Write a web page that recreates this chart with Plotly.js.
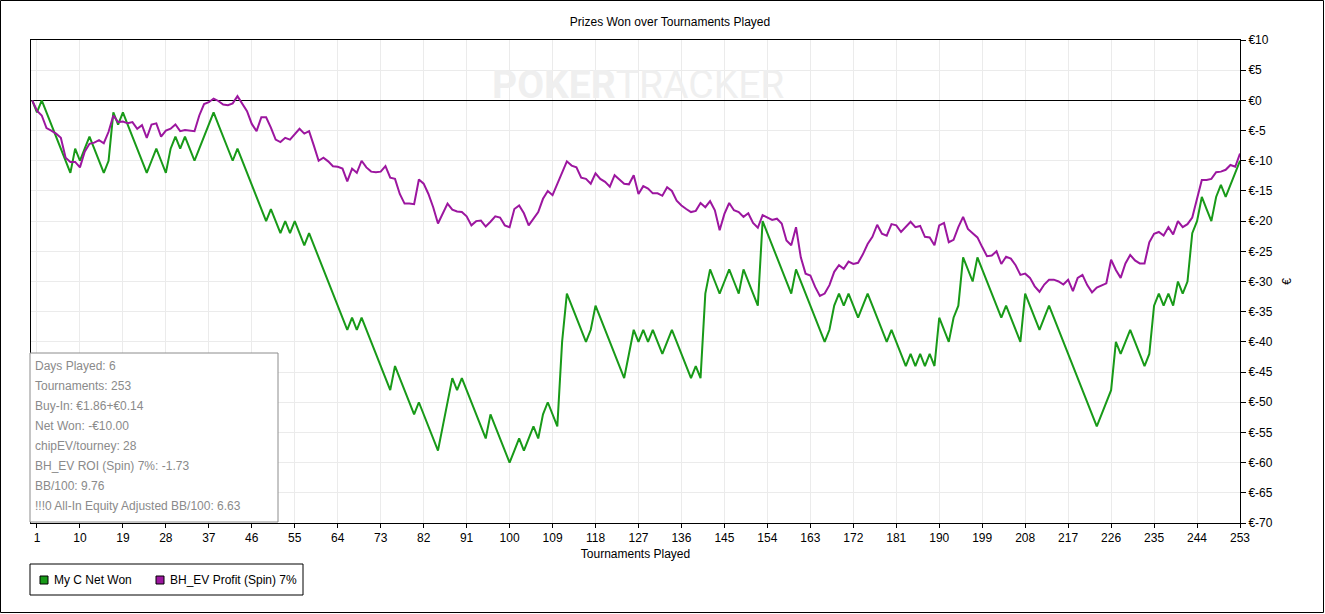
<!DOCTYPE html>
<html>
<head>
<meta charset="utf-8">
<script src="https://cdn.plot.ly/plotly-3.0.1.min.js"></script>
<style>
  html, body { margin:0; padding:0; background:#fff; }
  #chart { width:1325px; height:614px; }
</style>
</head>
<body>
<div id="chart"></div>
<script>
// ---- data ----
const tournamentCount = 253;
const tournaments = Array.from({length: tournamentCount + 1}, (_, i) => i);

const netWon = [
  0,-2,0,-2,-4,-6,-8,-10,-12,-8,
  -10,-8,-6,-8,-10,-12,-10,-2,-4,-2,
  -4,-6,-8,-10,-12,-10,-8,-10,-12,-8,
  -6,-8,-6,-8,-10,-8,-6,-4,-2,-4,
  -6,-8,-10,-8,-10,-12,-14,-16,-18,-20,
  -18,-20,-22,-20,-22,-20,-22,-24,-22,-24,
  -26,-28,-30,-32,-34,-36,-38,-36,-38,-36,
  -38,-40,-42,-44,-46,-48,-44,-46,-48,-50,
  -52,-50,-52,-54,-56,-58,-54,-50,-46,-48,
  -46,-48,-50,-52,-54,-56,-52,-54,-56,-58,
  -60,-58,-56,-58,-56,-54,-56,-52,-50,-52,
  -54,-40,-32,-34,-36,-38,-40,-38,-34,-36,
  -38,-40,-42,-44,-46,-42,-38,-40,-38,-40,
  -38,-40,-42,-40,-38,-40,-42,-44,-46,-44,
  -46,-32,-28,-30,-32,-30,-28,-30,-32,-28,
  -30,-32,-34,-20,-22,-24,-26,-28,-30,-32,
  -28,-30,-32,-34,-36,-38,-40,-38,-34,-32,
  -34,-32,-34,-36,-34,-32,-34,-36,-38,-40,
  -38,-40,-42,-44,-42,-44,-42,-44,-42,-44,
  -36,-38,-40,-36,-34,-26,-28,-30,-26,-28,
  -30,-32,-34,-36,-34,-36,-38,-40,-32,-34,
  -36,-38,-36,-34,-36,-38,-40,-42,-44,-46,
  -48,-50,-52,-54,-52,-50,-48,-40,-42,-40,
  -38,-40,-42,-44,-42,-34,-32,-34,-32,-34,
  -30,-32,-30,-22,-20,-16,-18,-20,-16,-14,
  -16,-14,-12,-10
];

const evProfit = [
  0,-1.7,-2.5,-4.6,-5,-5.5,-6.2,-9.5,-10.2,-10.2,
  -11.1,-8.5,-7.2,-7,-6.6,-7.1,-5.2,-2.5,-3.6,-3.5,
  -3.8,-3.6,-4.7,-4.1,-6.2,-4,-3.8,-6,-5,-4.7,
  -4,-5.1,-4.9,-5,-5.1,-2.5,-0.6,-0.3,0.3,-0.1,
  -0.7,-0.8,-0.5,0.7,-0.5,-1.8,-3.9,-5.1,-2.8,-2.8,
  -4.5,-6.5,-6.9,-6.2,-6.5,-5.5,-4.7,-5.5,-5.1,-7.5,
  -10,-9.5,-10.1,-10.9,-11,-11.3,-13.4,-11.3,-12,-10,
  -11.1,-11.8,-11.9,-11.8,-10.9,-12.8,-13,-15.5,-17.1,-17.1,
  -17.2,-13.1,-13.8,-15.5,-17.7,-20.4,-18.7,-17.1,-18.1,-18.4,
  -18.5,-19.2,-20.7,-20,-19.9,-20.9,-20.1,-19.2,-19.4,-20.7,
  -21,-18,-17.4,-18.7,-20.7,-19.6,-18.5,-16.3,-15,-15.7,
  -13.8,-11.9,-10.1,-10.8,-11.1,-12.8,-13,-13.8,-12.1,-13,
  -13.5,-14.3,-12.4,-13.1,-13.8,-13.9,-12.4,-15.5,-14.2,-14.6,
  -15.4,-15.4,-15.8,-14.4,-15,-16.6,-17.4,-18,-18.5,-18.3,
  -17,-17.7,-16.7,-18.2,-21.5,-18.8,-17,-18.2,-18.5,-19.3,
  -18.7,-20.3,-21.1,-19,-19.4,-19.8,-19.6,-20.4,-23.2,-24,
  -21,-26,-28.7,-29,-30.9,-32.4,-32,-30.6,-28.4,-27.3,
  -27.9,-26.7,-27.1,-26.9,-25.5,-23.8,-22.6,-20.6,-22.1,-22.4,
  -20.5,-20.7,-21.8,-21,-20.1,-21,-20.8,-22.6,-22.7,-24,
  -20.7,-20.3,-23.5,-23.1,-21,-19.3,-21.3,-22,-22.7,-24.3,
  -25.8,-25.7,-25,-27.1,-25.9,-26.2,-27.3,-28.9,-28.7,-29.4,
  -30.8,-31.7,-30.5,-29.7,-29.7,-30,-30.5,-29.7,-31.6,-29.4,
  -28.9,-30.6,-31.8,-31,-30.7,-30.3,-26.4,-28.1,-29.4,-27,
  -25.6,-26.5,-27,-27,-23.5,-22.1,-21.8,-22.4,-21,-22.2,
  -20,-21,-20.5,-19.4,-16.3,-13.2,-13.2,-13,-11.9,-11.8,
  -11.5,-10.7,-11,-8.8
];

const xTickVals = [1,10,19,28,37,46,55,64,73,82,91,100,109,118,127,136,145,154,163,172,181,190,199,208,217,226,235,244,253];
const xTickText = ["1","10","19","28","37","46","55","64","73","82","91","100","109","118","127","136","145","154","163","172","181","190","199","208","217","226","235","244","253"];
const yTickVals = [10,5,0,-5,-10,-15,-20,-25,-30,-35,-40,-45,-50,-55,-60,-65,-70];
const yTickText = ["€10","€5","€0","€-5","€-10","€-15","€-20","€-25","€-30","€-35","€-40","€-45","€-50","€-55","€-60","€-65","€-70"];

const seriesNames = ["My C Net Won", "BH_EV Profit (Spin) 7%"];
const chartTitle = "Prizes Won over Tournaments Played";
const xTitle = "Tournaments Played";
const yTitle = "€";
const watermarkBold = "POKER";
const watermarkLight = "TRACKER";
const infoLines = [
  "Days Played: 6",
  "Tournaments: 253",
  "Buy-In: €1.86+€0.14",
  "Net Won: -€10.00",
  "chipEV/tourney: 28",
  "BH_EV ROI (Spin) 7%: -1.73",
  "BB/100: 9.76",
  "!!!0 All-In Equity Adjusted BB/100: 6.63"
];

// ---- styling / layout ----
const GREEN = "#189a18";
const PURPLE = "#9c169f";
const W = 1325, H = 614;
const M = {l:31, r:85, t:40, b:91};
const PW = W - M.l - M.r, PH = H - M.t - M.b;
const px = X => (X - M.l) / PW;
const py = Y => (M.t + PH - Y) / PH;
const FONT = "Liberation Sans, Arial, sans-serif";

const traces = [
  {x: tournaments, y: netWon, type:'scatter', mode:'lines', name: seriesNames[0],
   line:{color:GREEN, width:2}, hoverinfo:'x+y'},
  {x: tournaments, y: evProfit, type:'scatter', mode:'lines', name: seriesNames[1],
   line:{color:PURPLE, width:2}, hoverinfo:'x+y'}
];

const shapes = [
  // info box
  {type:'rect', xref:'paper', yref:'paper', x0:px(30), x1:px(278), y0:py(522), y1:py(353),
   line:{color:'#8c8c8c', width:1}, fillcolor:'#ffffff', layer:'above'},
  // legend box
  {type:'rect', xref:'paper', yref:'paper', x0:px(30), x1:px(303), y0:py(595), y1:py(564),
   line:{color:'#000', width:1}, fillcolor:'#ffffff'},
  {type:'rect', xref:'paper', yref:'paper', x0:px(40), x1:px(48), y0:py(584), y1:py(576),
   line:{color:'#000', width:1}, fillcolor:GREEN},
  {type:'rect', xref:'paper', yref:'paper', x0:px(156), x1:px(164), y0:py(584), y1:py(576),
   line:{color:'#000', width:1}, fillcolor:PURPLE},
  // outer border
  {type:'rect', xref:'paper', yref:'paper', x0:px(0.5), x1:px(1323.5), y0:py(612.5), y1:py(0.5),
   line:{color:'#000', width:1}, fillcolor:'rgba(0,0,0,0)'}
];

const annotations = [
  {xref:'paper', yref:'paper', x:px(638), y:py(85), xanchor:'center', yanchor:'middle', showarrow:false,
   text:'<b>' + watermarkBold + '</b>' + watermarkLight,
   font:{family:'Roboto, Liberation Sans, sans-serif', size:39, color:'#efefef'}},
  {xref:'paper', yref:'paper', x:px(52), y:py(580), xanchor:'left', yanchor:'middle', showarrow:false,
   text: seriesNames[0], font:{family:FONT, size:12, color:'#000'}},
  {xref:'paper', yref:'paper', x:px(168), y:py(580), xanchor:'left', yanchor:'middle', showarrow:false,
   text: seriesNames[1], font:{family:FONT, size:12, color:'#000'}}
];
infoLines.forEach((t, i) => {
  annotations.push({xref:'paper', yref:'paper', x:px(33), y:py(366 + 20*i), xanchor:'left', yanchor:'middle',
    showarrow:false, text:t, font:{family:FONT, size:12, color:'#8a8a8a'}});
});

const layout = {
  width:W, height:H,
  margin:{l:M.l, r:M.r, t:M.t, b:M.b, pad:0},
  paper_bgcolor:'#fff', plot_bgcolor:'#fff',
  showlegend:false,
  font:{family:FONT, size:12, color:'#000'},
  title:{text:chartTitle, x:670/W, xanchor:'center', y:1 - 22/H, yanchor:'middle', font:{family:FONT, size:12, color:'#000'}},
  xaxis:{range:[-0.25, 253], tickmode:'array', tickvals:xTickVals, ticktext:xTickText,
    showgrid:true, gridcolor:'#ebebeb', gridwidth:1, zeroline:false,
    showline:true, linecolor:'#000', linewidth:1, mirror:true,
    ticks:'outside', ticklen:4, tickcolor:'#000', tickfont:{family:FONT, size:12},
    title:{text:xTitle, standoff:5, font:{family:FONT, size:12}}, automargin:false, fixedrange:true},
  yaxis:{side:'right', range:[-70, 10], tickmode:'array', tickvals:yTickVals, ticktext:yTickText,
    showgrid:true, gridcolor:'#ebebeb', gridwidth:1,
    zeroline:true, zerolinecolor:'#000', zerolinewidth:1,
    showline:true, linecolor:'#000', linewidth:1, mirror:true,
    ticks:'outside', ticklen:5, tickcolor:'#000', tickfont:{family:FONT, size:12},
    title:{text:yTitle, standoff:10, font:{family:FONT, size:12}}, automargin:false, fixedrange:true},
  shapes: shapes,
  annotations: annotations
};

Plotly.newPlot('chart', traces, layout, {displayModeBar:false, staticPlot:true});
</script>
</body>
</html>
